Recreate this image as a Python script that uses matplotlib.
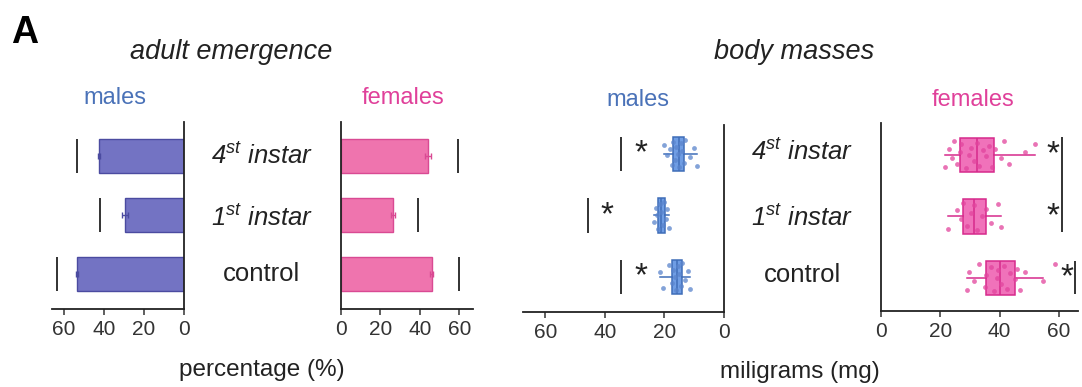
import numpy as np
import matplotlib
matplotlib.use("Agg")
import matplotlib.pyplot as plt

plt.rcParams["font.family"] = ["Liberation Sans", "DejaVu Sans"]
plt.rcParams["mathtext.fontset"] = "custom"
plt.rcParams["mathtext.it"] = "Liberation Sans:italic"
plt.rcParams["mathtext.rm"] = "Liberation Sans:italic"

# groups, top to bottom
groups = ["4st instar", "1st instar", "control"]
group_labels = [r"$4^{st}\ instar$", r"$1^{st}\ instar$", "control"]

# adult emergence (%)
emerg_males = [42.5, 29.5, 53.5]
emerg_males_err = [0.5, 1.5, 0.5]
emerg_males_ref = [53.5, 42.0, 63.5]
emerg_females = [44.0, 26.5, 46.0]
emerg_females_err = [1.5, 1.0, 0.7]
emerg_females_ref = [59.5, 39.0, 60.0]

# body masses (mg)
mass_males = [
    [9.0, 10.0, 11.5, 13.0, 13.5, 14.0, 14.5, 15.0, 15.5, 16.0, 16.5, 17.0, 17.5, 18.0, 19.0, 20.0],
    [18.5, 19.0, 19.5, 20.0, 20.5, 21.0, 21.5, 22.0, 22.5, 23.0, 23.5],
    [11.5, 12.0, 13.0, 14.0, 14.5, 15.0, 15.5, 16.0, 16.5, 17.0, 17.5, 18.5, 20.5, 21.5],
]
mass_females = [
    [21.5, 23.0, 23.8, 24.5, 25.5, 26.5, 27.0, 28.5, 29.5, 30.5, 31.5, 32.5, 33.0,
     34.5, 35.5, 36.5, 37.5, 38.5, 40.5, 41.5, 43.0, 48.5, 52.0],
    [22.5, 25.5, 27.0, 27.5, 29.0, 30.5, 31.5, 32.5, 34.0, 35.5, 37.0, 39.5, 40.5],
    [29.0, 29.5, 31.5, 33.0, 35.0, 35.5, 37.0, 38.0, 39.0, 39.5, 40.5, 41.5, 42.5,
     43.5, 45.0, 46.0, 47.0, 48.5, 54.5, 58.5],
]

W, H = 1082, 387
ypos = np.array([2, 1, 0])
dark = "#222222"
blue_txt, pink_txt = "#4a72b8", "#e0409a"

fig = plt.figure(figsize=(W / 100, H / 100), dpi=100)


def add_ax(x0, x1, ytop, ybot):
    return fig.add_axes([x0 / W, 1 - ybot / H, (x1 - x0) / W, (ybot - ytop) / H])


def style(ax, spine_side):
    for s in ["left", "right", "top"]:
        ax.spines[s].set_visible(s == spine_side)
    for s in ["bottom", spine_side]:
        ax.spines[s].set_color(dark)
        ax.spines[s].set_linewidth(1.3)
    ax.set_yticks([])
    ax.set_xticks([0, 20, 40, 60])
    ax.tick_params(axis="x", labelsize=15, colors="#333333", length=4, width=1.1, pad=4)


# --- adult emergence, males (mirrored) ---
ax1 = add_ax(52, 184, 122, 309)
ax1.barh(ypos, emerg_males, height=0.58, color="#7373c3", edgecolor="#4b4ba0", linewidth=1)
ax1.errorbar(emerg_males, ypos, xerr=emerg_males_err, fmt="none", ecolor="#4b4ba0",
             elinewidth=1, capsize=2)
ax1.vlines(emerg_males_ref, ypos - 0.29, ypos + 0.29, color=dark, lw=1.3)
ax1.set_xlim(66, 0)
ax1.set_ylim(-0.59, 2.58)
style(ax1, "right")

# --- adult emergence, females ---
ax2 = add_ax(341, 473, 122, 309)
ax2.barh(ypos, emerg_females, height=0.58, color="#ef74ae", edgecolor="#d94a93", linewidth=1)
ax2.errorbar(emerg_females, ypos, xerr=emerg_females_err, fmt="none", ecolor="#d94a93",
             elinewidth=1, capsize=2)
ax2.vlines(emerg_females_ref, ypos - 0.29, ypos + 0.29, color=dark, lw=1.3)
ax2.set_xlim(0, 67)
ax2.set_ylim(-0.59, 2.58)
style(ax2, "left")

# fixed vertical jitter for the raw points
jitter = np.array([-0.2, 0.1, -0.05, 0.22, -0.15, 0.05, 0.18, -0.22, 0.0, 0.12,
                   -0.1, 0.2, -0.18, 0.08, -0.02, 0.15])


def boxes(ax, data, face, edge, pts):
    ax.boxplot(data, positions=ypos, orientation="horizontal", widths=0.56,
               patch_artist=True, whis=1.3, showfliers=False, showcaps=False,
               boxprops=dict(facecolor=face, edgecolor=edge, linewidth=1.1),
               medianprops=dict(color=edge, linewidth=1.1),
               whiskerprops=dict(color=edge, linewidth=1.1))
    for vals, y in zip(data, ypos):
        ax.scatter(vals, y + np.resize(jitter, len(vals)), s=12, color=pts,
                   alpha=0.75, linewidths=0, zorder=3)


# --- body masses, males (mirrored) ---
ax3 = add_ax(523, 724, 125, 312)
boxes(ax3, mass_males, "#6f9de4", "#3f6db8", "#5a84cc")
ax3.vlines([34.6, 45.8, 34.6], ypos - 0.28, ypos + 0.28, color=dark, lw=1.3)
for x, y in zip([27.8, 39.3, 27.8], ypos):
    ax3.text(x, y, "*", fontsize=24, ha="center", va="center", color=dark)
ax3.set_xlim(67.5, 0)
ax3.set_ylim(-0.57, 2.47)
style(ax3, "right")

# --- body masses, females ---
ax4 = add_ax(881, 1078, 123, 311)
boxes(ax4, mass_females, "#f072ba", "#d62a8c", "#e2449d")
ax4.vlines([61.0, 65.4], [0.75, -0.27], [2.3, 0.27], color=dark, lw=1.3)
for x, y in zip([58.0, 58.0, 62.7], ypos):
    ax4.text(x, y, "*", fontsize=24, ha="center", va="center", color=dark)
ax4.set_xlim(0, 66.4)
ax4.set_ylim(-0.54, 2.52)
style(ax4, "left")

# group names between the paired panels
for lab, y1, y2 in zip(group_labels, [156, 218, 274], [152, 218, 275]):
    fig.text(262 / W, 1 - y1 / H, lab, fontsize=18.5, ha="center", va="center", color=dark)
    fig.text(802 / W, 1 - y2 / H, lab, fontsize=18.5, ha="center", va="center", color=dark)

# titles and labels
fig.text(11 / W, 1 - 33 / H, "A", fontsize=27, fontweight="bold", va="center", color="black")
fig.text(231 / W, 1 - 52 / H, "adult emergence", fontsize=19.5, style="italic",
         ha="center", va="center", color=dark)
fig.text(794 / W, 1 - 52 / H, "body masses", fontsize=19.5, style="italic",
         ha="center", va="center", color=dark)
fig.text(115 / W, 1 - 98 / H, "males", fontsize=17, ha="center", va="center", color=blue_txt)
fig.text(403 / W, 1 - 98 / H, "females", fontsize=17, ha="center", va="center", color=pink_txt)
fig.text(638 / W, 1 - 100 / H, "males", fontsize=17, ha="center", va="center", color=blue_txt)
fig.text(973 / W, 1 - 100 / H, "females", fontsize=17, ha="center", va="center", color=pink_txt)
fig.text(262 / W, 1 - 370 / H, "percentage (%)", fontsize=17.5, ha="center", va="center",
         color=dark)
fig.text(800 / W, 1 - 372 / H, "miligrams (mg)", fontsize=17.5, ha="center", va="center",
         color=dark)

fig.savefig("out.png", dpi=100, facecolor="white")
